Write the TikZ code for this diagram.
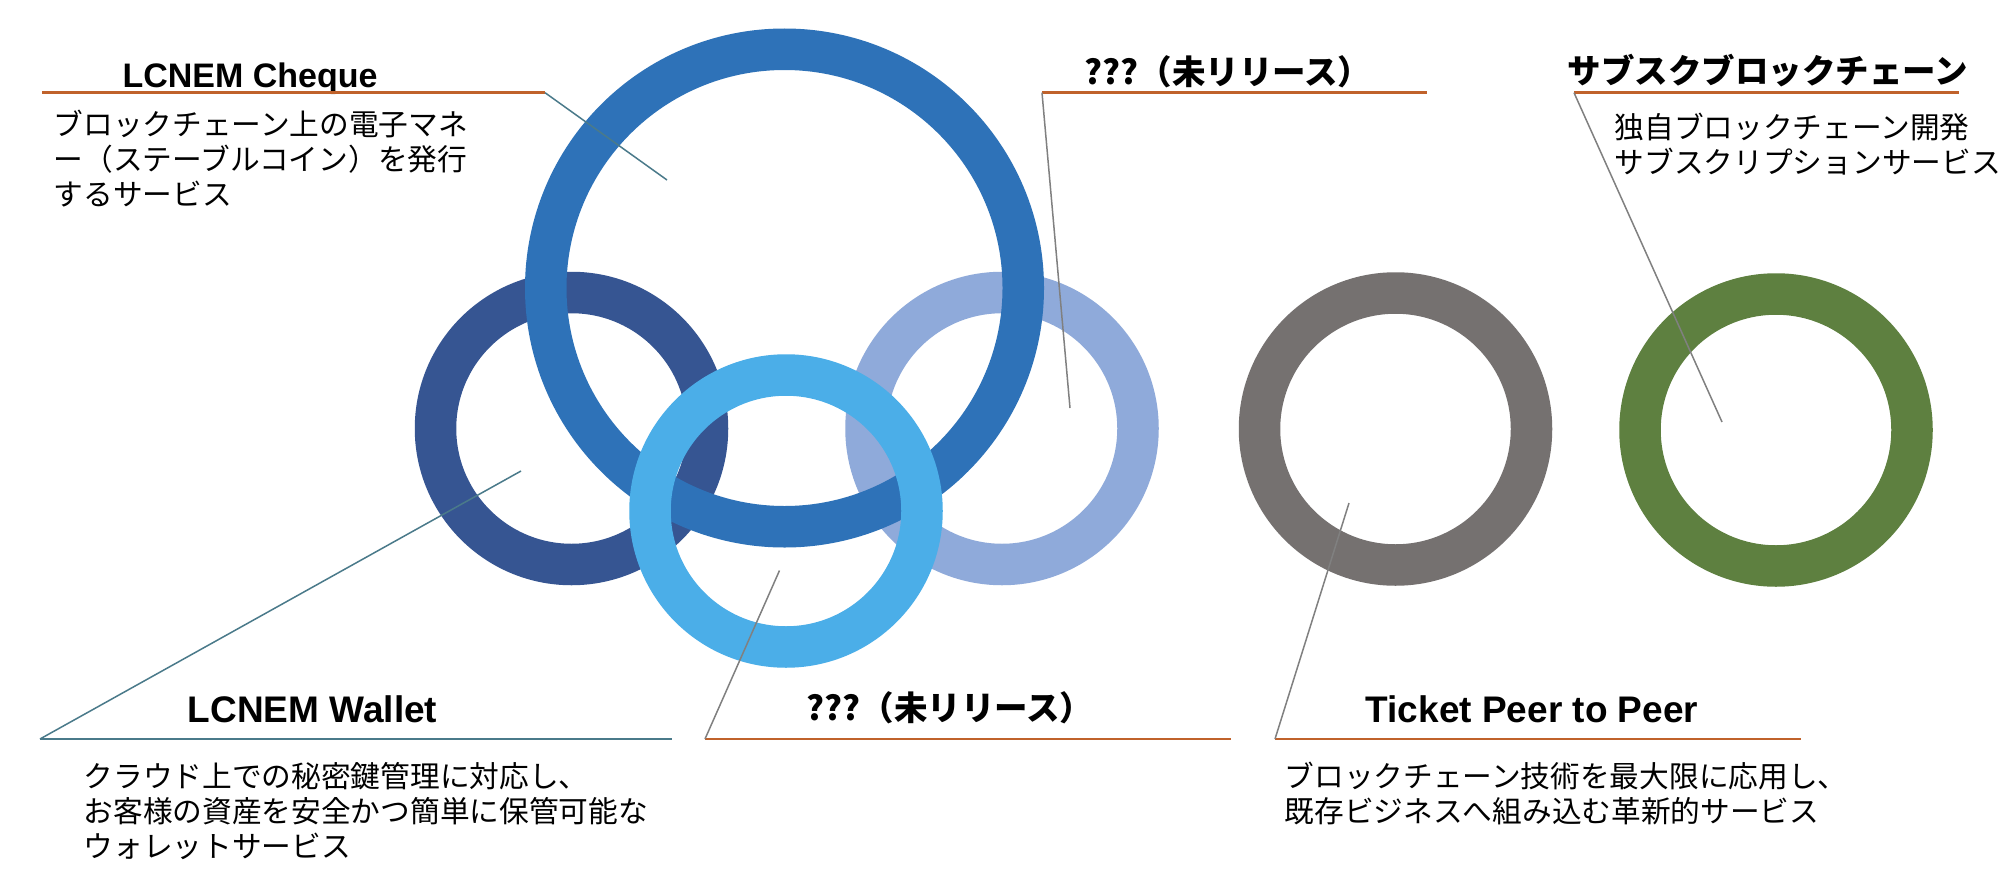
\documentclass[tikz,border=0pt]{standalone}
\usepackage{fontspec}
\setmainfont{Liberation Sans}
\newfontfamily\jp{Noto Sans CJK JP}
\usetikzlibrary{positioning}
\definecolor{rgCheque}{HTML}{2E72B8}
\definecolor{rgWallet}{HTML}{365592}
\definecolor{rgPale}{HTML}{8FAADA}
\definecolor{rgSky}{HTML}{4BAEE8}
\definecolor{rgGrey}{HTML}{757170}
\definecolor{rgGreen}{HTML}{5E8040}
\definecolor{lnOrange}{HTML}{C0622B}
\definecolor{lnTeal}{HTML}{4A7A8A}
\definecolor{lnGrey}{HTML}{808080}
\tikzset{
  ring/.style={circle, draw=#1, line width=41.5pt, inner sep=0pt, minimum size=272pt},
  bigring/.style={ring=#1, minimum size=477.5pt},
  ttl/.style={anchor=base, inner sep=0pt, font=\fontsize{34}{38}\selectfont\bfseries},
  wttl/.style={ttl, font=\fontsize{37}{40}\selectfont\bfseries},
  jttl/.style={anchor=base, inner sep=0pt, font=\fontsize{33.5}{38}\selectfont\jp\bfseries},
  desc/.style={anchor=north west, align=left, inner sep=0pt,
               font=\fontsize{29.7}{35}\selectfont\jp},
  uline/.style={draw=lnOrange, line width=2.5pt},
  tline/.style={draw=lnTeal, line width=2.5pt},
  leader/.style={draw=lnGrey, line width=1.5pt},
  tleader/.style={draw=lnTeal, line width=1.5pt},
}

\begin{document}
\begin{tikzpicture}[x=1pt,y=-1pt]
  \fill[white] (0,0) rectangle (2014,870);
  \useasboundingbox (0,0) rectangle (2014,870);
  % rings, back to front
  \foreach \n/\c/\x/\y in {wallet/rgWallet/571.5/428.5, pale/rgPale/1002/428.5,
                           ticket/rgGrey/1395.5/429, subsc/rgGreen/1776/430}{
    \node[ring=\c] (\n) at (\x,\y) {};}
  \node[bigring=rgCheque] (cheque) at (784.5,288) {};
  \node[ring=rgSky] (sky) at (786,511) {};
  % titles
  \node[ttl] (chequeTtl) at (250,87) {LCNEM Cheque};
  \node[jttl] (paleTtl) at (1228,84) {???（未リリース）};
  \node[jttl] (subscTtl) at (1768,83) {サブスクブロックチェーン};
  \node[wttl] (walletTtl) at (312.5,722) {LCNEM Wallet};
  \node[jttl] (skyTtl) at (950,720) {???（未リリース）};
  \node[wttl] (ticketTtl) at (1532,722) {Ticket Peer to Peer};
  % descriptions
  \node[desc] (chequeTxt) at (53.5,110)
    {ブロックチェーン上の電子マネ\\ー（ステーブルコイン）を発行\\するサービス};
  \node[desc] (subscTxt) at (1614.5,113)
    {独自ブロックチェーン開発\\サブスクリプションサービス};
  \node[desc] (walletTxt) at (83.5,762)
    {クラウド上での秘密鍵管理に対応し、\\お客様の資産を安全かつ簡単に保管可能な\\ウォレットサービス};
  \node[desc] (ticketTxt) at (1284.5,762)
    {ブロックチェーン技術を最大限に応用し、\\既存ビジネスへ組み込む革新的サービス};
  % underline ends and leader tips
  \coordinate (chequeL) at (42,92.7);   \coordinate (chequeR) at (545,92.7);
  \coordinate (paleL) at (1042,92.7);   \coordinate (paleR) at (1427,92.7);
  \coordinate (subscL) at (1574,92.7);  \coordinate (subscR) at (1959,92.7);
  \coordinate (walletL) at (40,739);    \coordinate (walletR) at (672,739);
  \coordinate (skyL) at (705,739);      \coordinate (skyR) at (1231,739);
  \coordinate (ticketL) at (1275,739);  \coordinate (ticketR) at (1801,739);
  \coordinate (chequePt) at (667,180);
  \coordinate (palePt) at (1070,408);
  \coordinate (subscPt) at (1722,422);
  \coordinate (walletPt) at (521,471);
  \coordinate (skyPt) at (779.5,570.5);
  \coordinate (ticketPt) at (1349,503);
  \foreach \n in {pale,subsc,sky,ticket}{
    \draw[uline] (\n L) -- (\n R);
    \draw[leader] (\n L) -- (\n Pt);}
  \draw[uline] (chequeL) -- (chequeR);
  \draw[tleader] (chequeR) -- (chequePt);
  \draw[tline] (walletL) -- (walletR);
  \draw[tleader] (walletL) -- (walletPt);
\end{tikzpicture}
\end{document}
